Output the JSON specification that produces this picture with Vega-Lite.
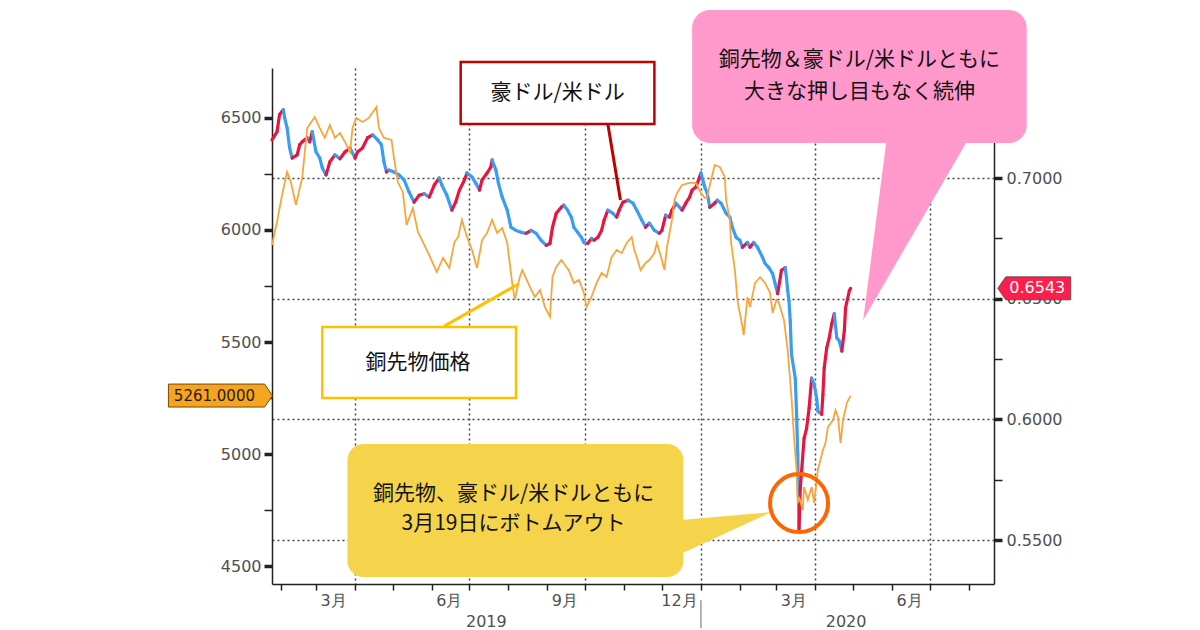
{
  "$schema": "https://vega.github.io/schema/vega-lite/v6.json",
  "width": 722,
  "height": 516,
  "autosize": {"type": "none"},
  "padding": {"left": 272, "top": 68, "right": 206, "bottom": 46},
  "background": "white",
  "config": {
    "view": {"stroke": null},
    "axis": {
      "labelFont": "DejaVu Sans",
      "labelFontSize": 16,
      "labelColor": "#505050",
      "domainColor": "#222222",
      "domainWidth": 1.5,
      "tickColor": "#222222",
      "gridColor": "#444444",
      "gridDash": [2, 3],
      "gridWidth": 1.5
    }
  },
  "datasets": {
    "aud": [
      {"t":"2019-01-25","t2":"2019-01-29","o":0.7158,"c":0.7192},
      {"t":"2019-01-29","t2":"2019-01-31","o":0.7192,"c":0.7263},
      {"t":"2019-01-31","t2":"2019-02-03","o":0.7263,"c":0.7283},
      {"t":"2019-02-03","t2":"2019-02-04","o":0.7283,"c":0.7250},
      {"t":"2019-02-04","t2":"2019-02-06","o":0.7250,"c":0.7208},
      {"t":"2019-02-06","t2":"2019-02-08","o":0.7208,"c":0.7125},
      {"t":"2019-02-08","t2":"2019-02-10","o":0.7125,"c":0.7083},
      {"t":"2019-02-10","t2":"2019-02-14","o":0.7083,"c":0.7096},
      {"t":"2019-02-14","t2":"2019-02-16","o":0.7096,"c":0.7138},
      {"t":"2019-02-16","t2":"2019-02-18","o":0.7138,"c":0.7150},
      {"t":"2019-02-18","t2":"2019-02-22","o":0.7150,"c":0.7167},
      {"t":"2019-02-22","t2":"2019-02-24","o":0.7167,"c":0.7150},
      {"t":"2019-02-24","t2":"2019-02-26","o":0.7150,"c":0.7192},
      {"t":"2019-02-26","t2":"2019-03-01","o":0.7192,"c":0.7108},
      {"t":"2019-03-01","t2":"2019-03-04","o":0.7108,"c":0.7083},
      {"t":"2019-03-04","t2":"2019-03-06","o":0.7083,"c":0.7042},
      {"t":"2019-03-06","t2":"2019-03-09","o":0.7042,"c":0.7013},
      {"t":"2019-03-09","t2":"2019-03-12","o":0.7013,"c":0.7067},
      {"t":"2019-03-12","t2":"2019-03-16","o":0.7067,"c":0.7096},
      {"t":"2019-03-16","t2":"2019-03-20","o":0.7096,"c":0.7080},
      {"t":"2019-03-20","t2":"2019-03-24","o":0.7080,"c":0.7108},
      {"t":"2019-03-24","t2":"2019-03-28","o":0.7108,"c":0.7125},
      {"t":"2019-03-28","t2":"2019-04-01","o":0.7125,"c":0.7083},
      {"t":"2019-04-01","t2":"2019-04-03","o":0.7083,"c":0.7108},
      {"t":"2019-04-03","t2":"2019-04-07","o":0.7108,"c":0.7125},
      {"t":"2019-04-07","t2":"2019-04-11","o":0.7125,"c":0.7167},
      {"t":"2019-04-11","t2":"2019-04-15","o":0.7167,"c":0.7179},
      {"t":"2019-04-15","t2":"2019-04-19","o":0.7179,"c":0.7158},
      {"t":"2019-04-19","t2":"2019-04-22","o":0.7158,"c":0.7138},
      {"t":"2019-04-22","t2":"2019-04-24","o":0.7138,"c":0.7067},
      {"t":"2019-04-24","t2":"2019-04-26","o":0.7067,"c":0.7025},
      {"t":"2019-04-26","t2":"2019-04-28","o":0.7025,"c":0.7033},
      {"t":"2019-04-28","t2":"2019-05-02","o":0.7033,"c":0.7025},
      {"t":"2019-05-02","t2":"2019-05-06","o":0.7025,"c":0.7013},
      {"t":"2019-05-06","t2":"2019-05-10","o":0.7013,"c":0.6992},
      {"t":"2019-05-10","t2":"2019-05-14","o":0.6992,"c":0.6942},
      {"t":"2019-05-14","t2":"2019-05-18","o":0.6942,"c":0.6900},
      {"t":"2019-05-18","t2":"2019-05-22","o":0.6900,"c":0.6929},
      {"t":"2019-05-22","t2":"2019-05-26","o":0.6929,"c":0.6935},
      {"t":"2019-05-26","t2":"2019-05-30","o":0.6935,"c":0.6921},
      {"t":"2019-05-30","t2":"2019-06-03","o":0.6921,"c":0.6971},
      {"t":"2019-06-03","t2":"2019-06-07","o":0.6971,"c":0.7000},
      {"t":"2019-06-07","t2":"2019-06-09","o":0.7000,"c":0.6971},
      {"t":"2019-06-09","t2":"2019-06-13","o":0.6971,"c":0.6929},
      {"t":"2019-06-13","t2":"2019-06-17","o":0.6929,"c":0.6867},
      {"t":"2019-06-17","t2":"2019-06-20","o":0.6867,"c":0.6900},
      {"t":"2019-06-20","t2":"2019-06-23","o":0.6900,"c":0.6950},
      {"t":"2019-06-23","t2":"2019-06-27","o":0.6950,"c":0.6992},
      {"t":"2019-06-27","t2":"2019-06-29","o":0.6992,"c":0.7021},
      {"t":"2019-06-29","t2":"2019-07-03","o":0.7021,"c":0.7004},
      {"t":"2019-07-03","t2":"2019-07-06","o":0.7004,"c":0.6979},
      {"t":"2019-07-06","t2":"2019-07-09","o":0.6979,"c":0.6950},
      {"t":"2019-07-09","t2":"2019-07-11","o":0.6950,"c":0.6992},
      {"t":"2019-07-11","t2":"2019-07-15","o":0.6992,"c":0.7021},
      {"t":"2019-07-15","t2":"2019-07-18","o":0.7021,"c":0.7046},
      {"t":"2019-07-18","t2":"2019-07-19","o":0.7046,"c":0.7075},
      {"t":"2019-07-19","t2":"2019-07-22","o":0.7075,"c":0.7033},
      {"t":"2019-07-22","t2":"2019-07-24","o":0.7033,"c":0.6979},
      {"t":"2019-07-24","t2":"2019-07-27","o":0.6979,"c":0.6921},
      {"t":"2019-07-27","t2":"2019-07-31","o":0.6921,"c":0.6867},
      {"t":"2019-07-31","t2":"2019-08-03","o":0.6867,"c":0.6796},
      {"t":"2019-08-03","t2":"2019-08-07","o":0.6796,"c":0.6783},
      {"t":"2019-08-07","t2":"2019-08-11","o":0.6783,"c":0.6775},
      {"t":"2019-08-11","t2":"2019-08-15","o":0.6775,"c":0.6771},
      {"t":"2019-08-15","t2":"2019-08-19","o":0.6771,"c":0.6783},
      {"t":"2019-08-19","t2":"2019-08-23","o":0.6783,"c":0.6771},
      {"t":"2019-08-23","t2":"2019-08-27","o":0.6771,"c":0.6742},
      {"t":"2019-08-27","t2":"2019-08-31","o":0.6742,"c":0.6721},
      {"t":"2019-08-31","t2":"2019-09-03","o":0.6721,"c":0.6729},
      {"t":"2019-09-03","t2":"2019-09-05","o":0.6729,"c":0.6796},
      {"t":"2019-09-05","t2":"2019-09-08","o":0.6796,"c":0.6854},
      {"t":"2019-09-08","t2":"2019-09-12","o":0.6854,"c":0.6879},
      {"t":"2019-09-12","t2":"2019-09-14","o":0.6879,"c":0.6888},
      {"t":"2019-09-14","t2":"2019-09-17","o":0.6888,"c":0.6867},
      {"t":"2019-09-17","t2":"2019-09-20","o":0.6867,"c":0.6838},
      {"t":"2019-09-20","t2":"2019-09-22","o":0.6838,"c":0.6796},
      {"t":"2019-09-22","t2":"2019-09-25","o":0.6796,"c":0.6775},
      {"t":"2019-09-25","t2":"2019-09-28","o":0.6775,"c":0.6754},
      {"t":"2019-09-28","t2":"2019-09-30","o":0.6754,"c":0.6733},
      {"t":"2019-09-30","t2":"2019-10-03","o":0.6733,"c":0.6729},
      {"t":"2019-10-03","t2":"2019-10-06","o":0.6729,"c":0.6750},
      {"t":"2019-10-06","t2":"2019-10-08","o":0.6750,"c":0.6742},
      {"t":"2019-10-08","t2":"2019-10-11","o":0.6742,"c":0.6754},
      {"t":"2019-10-11","t2":"2019-10-14","o":0.6754,"c":0.6783},
      {"t":"2019-10-14","t2":"2019-10-16","o":0.6783,"c":0.6825},
      {"t":"2019-10-16","t2":"2019-10-19","o":0.6825,"c":0.6867},
      {"t":"2019-10-19","t2":"2019-10-23","o":0.6867,"c":0.6854},
      {"t":"2019-10-23","t2":"2019-10-26","o":0.6854,"c":0.6838},
      {"t":"2019-10-26","t2":"2019-10-28","o":0.6838,"c":0.6867},
      {"t":"2019-10-28","t2":"2019-10-31","o":0.6867,"c":0.6900},
      {"t":"2019-10-31","t2":"2019-11-04","o":0.6900,"c":0.6908},
      {"t":"2019-11-04","t2":"2019-11-08","o":0.6908,"c":0.6896},
      {"t":"2019-11-08","t2":"2019-11-11","o":0.6896,"c":0.6867},
      {"t":"2019-11-11","t2":"2019-11-15","o":0.6867,"c":0.6825},
      {"t":"2019-11-15","t2":"2019-11-18","o":0.6825,"c":0.6796},
      {"t":"2019-11-18","t2":"2019-11-21","o":0.6796,"c":0.6813},
      {"t":"2019-11-21","t2":"2019-11-25","o":0.6813,"c":0.6783},
      {"t":"2019-11-25","t2":"2019-11-29","o":0.6783,"c":0.6771},
      {"t":"2019-11-29","t2":"2019-12-01","o":0.6771,"c":0.6783},
      {"t":"2019-12-01","t2":"2019-12-04","o":0.6783,"c":0.6846},
      {"t":"2019-12-04","t2":"2019-12-07","o":0.6846,"c":0.6838},
      {"t":"2019-12-07","t2":"2019-12-09","o":0.6838,"c":0.6867},
      {"t":"2019-12-09","t2":"2019-12-12","o":0.6867,"c":0.6896},
      {"t":"2019-12-12","t2":"2019-12-15","o":0.6896,"c":0.6879},
      {"t":"2019-12-15","t2":"2019-12-17","o":0.6879,"c":0.6867},
      {"t":"2019-12-17","t2":"2019-12-20","o":0.6867,"c":0.6896},
      {"t":"2019-12-20","t2":"2019-12-23","o":0.6896,"c":0.6921},
      {"t":"2019-12-23","t2":"2019-12-25","o":0.6921,"c":0.6950},
      {"t":"2019-12-25","t2":"2019-12-28","o":0.6950,"c":0.6963},
      {"t":"2019-12-28","t2":"2019-12-31","o":0.6963,"c":0.7004},
      {"t":"2019-12-31","t2":"2020-01-01","o":0.7004,"c":0.7021},
      {"t":"2020-01-01","t2":"2020-01-04","o":0.7021,"c":0.6963},
      {"t":"2020-01-04","t2":"2020-01-06","o":0.6963,"c":0.6938},
      {"t":"2020-01-06","t2":"2020-01-08","o":0.6938,"c":0.6879},
      {"t":"2020-01-08","t2":"2020-01-12","o":0.6879,"c":0.6896},
      {"t":"2020-01-12","t2":"2020-01-14","o":0.6896,"c":0.6908},
      {"t":"2020-01-14","t2":"2020-01-17","o":0.6908,"c":0.6896},
      {"t":"2020-01-17","t2":"2020-01-21","o":0.6896,"c":0.6854},
      {"t":"2020-01-21","t2":"2020-01-24","o":0.6854,"c":0.6838},
      {"t":"2020-01-24","t2":"2020-01-26","o":0.6838,"c":0.6796},
      {"t":"2020-01-26","t2":"2020-01-29","o":0.6796,"c":0.6754},
      {"t":"2020-01-29","t2":"2020-02-01","o":0.6754,"c":0.6742},
      {"t":"2020-02-01","t2":"2020-02-03","o":0.6742,"c":0.6713},
      {"t":"2020-02-03","t2":"2020-02-07","o":0.6713,"c":0.6733},
      {"t":"2020-02-07","t2":"2020-02-09","o":0.6733,"c":0.6713},
      {"t":"2020-02-09","t2":"2020-02-12","o":0.6713,"c":0.6733},
      {"t":"2020-02-12","t2":"2020-02-15","o":0.6733,"c":0.6713},
      {"t":"2020-02-15","t2":"2020-02-19","o":0.6713,"c":0.6671},
      {"t":"2020-02-19","t2":"2020-02-21","o":0.6671,"c":0.6646},
      {"t":"2020-02-21","t2":"2020-02-24","o":0.6646,"c":0.6629},
      {"t":"2020-02-24","t2":"2020-02-27","o":0.6629,"c":0.6604},
      {"t":"2020-02-27","t2":"2020-02-29","o":0.6604,"c":0.6563},
      {"t":"2020-02-29","t2":"2020-03-02","o":0.6563,"c":0.6521},
      {"t":"2020-03-02","t2":"2020-03-05","o":0.6521,"c":0.6617},
      {"t":"2020-03-05","t2":"2020-03-08","o":0.6617,"c":0.6629},
      {"t":"2020-03-08","t2":"2020-03-09","o":0.6629,"c":0.6588},
      {"t":"2020-03-09","t2":"2020-03-10","o":0.6588,"c":0.6533},
      {"t":"2020-03-10","t2":"2020-03-11","o":0.6533,"c":0.6492},
      {"t":"2020-03-11","t2":"2020-03-12","o":0.6492,"c":0.6408},
      {"t":"2020-03-12","t2":"2020-03-13","o":0.6408,"c":0.6271},
      {"t":"2020-03-13","t2":"2020-03-16","o":0.6271,"c":0.6171},
      {"t":"2020-03-16","t2":"2020-03-17","o":0.6171,"c":0.6033},
      {"t":"2020-03-17","t2":"2020-03-18","o":0.6033,"c":0.5854},
      {"t":"2020-03-18","t2":"2020-03-19","o":0.5854,"c":0.5546},
      {"t":"2020-03-19","t2":"2020-03-20","o":0.5546,"c":0.5713},
      {"t":"2020-03-20","t2":"2020-03-23","o":0.5713,"c":0.5921},
      {"t":"2020-03-23","t2":"2020-03-25","o":0.5921,"c":0.5963},
      {"t":"2020-03-25","t2":"2020-03-27","o":0.5963,"c":0.6046},
      {"t":"2020-03-27","t2":"2020-03-29","o":0.6046,"c":0.6171},
      {"t":"2020-03-29","t2":"2020-03-31","o":0.6171,"c":0.6146},
      {"t":"2020-03-31","t2":"2020-04-02","o":0.6146,"c":0.6088},
      {"t":"2020-04-02","t2":"2020-04-03","o":0.6088,"c":0.6033},
      {"t":"2020-04-03","t2":"2020-04-06","o":0.6033,"c":0.6021},
      {"t":"2020-04-06","t2":"2020-04-07","o":0.6021,"c":0.6104},
      {"t":"2020-04-07","t2":"2020-04-08","o":0.6104,"c":0.6213},
      {"t":"2020-04-08","t2":"2020-04-10","o":0.6213,"c":0.6296},
      {"t":"2020-04-10","t2":"2020-04-12","o":0.6296,"c":0.6338},
      {"t":"2020-04-12","t2":"2020-04-14","o":0.6338,"c":0.6396},
      {"t":"2020-04-14","t2":"2020-04-16","o":0.6396,"c":0.6438},
      {"t":"2020-04-16","t2":"2020-04-18","o":0.6438,"c":0.6338},
      {"t":"2020-04-18","t2":"2020-04-20","o":0.6338,"c":0.6325},
      {"t":"2020-04-20","t2":"2020-04-22","o":0.6325,"c":0.6283},
      {"t":"2020-04-22","t2":"2020-04-24","o":0.6283,"c":0.6367},
      {"t":"2020-04-24","t2":"2020-04-25","o":0.6367,"c":0.6463},
      {"t":"2020-04-25","t2":"2020-04-28","o":0.6463,"c":0.6533},
      {"t":"2020-04-28","t2":"2020-04-29","o":0.6533,"c":0.6543}
    ],
    "copper": [
      {"t":"2019-01-25","v":5933},{"t":"2019-01-29","v":6036},{"t":"2019-02-02","v":6156},
      {"t":"2019-02-06","v":6259},{"t":"2019-02-09","v":6214},{"t":"2019-02-13","v":6112},
      {"t":"2019-02-18","v":6232},{"t":"2019-02-22","v":6455},{"t":"2019-02-28","v":6504},
      {"t":"2019-03-04","v":6455},{"t":"2019-03-08","v":6411},{"t":"2019-03-12","v":6469},
      {"t":"2019-03-16","v":6411},{"t":"2019-03-20","v":6433},{"t":"2019-03-24","v":6393},
      {"t":"2019-03-28","v":6348},{"t":"2019-03-30","v":6455},{"t":"2019-04-02","v":6500},
      {"t":"2019-04-07","v":6482},{"t":"2019-04-12","v":6500},{"t":"2019-04-18","v":6549},
      {"t":"2019-04-20","v":6455},{"t":"2019-04-24","v":6411},{"t":"2019-04-30","v":6402},
      {"t":"2019-05-02","v":6321},{"t":"2019-05-05","v":6214},{"t":"2019-05-09","v":6170},
      {"t":"2019-05-12","v":6022},{"t":"2019-05-17","v":6098},{"t":"2019-05-21","v":5991},
      {"t":"2019-05-25","v":5946},{"t":"2019-05-30","v":5888},{"t":"2019-06-05","v":5812},
      {"t":"2019-06-10","v":5875},{"t":"2019-06-15","v":5830},{"t":"2019-06-19","v":5946},
      {"t":"2019-06-22","v":5969},{"t":"2019-06-25","v":6045},{"t":"2019-06-29","v":5969},
      {"t":"2019-07-03","v":5911},{"t":"2019-07-07","v":5830},{"t":"2019-07-11","v":5955},
      {"t":"2019-07-15","v":5987},{"t":"2019-07-19","v":6045},{"t":"2019-07-23","v":5987},
      {"t":"2019-07-27","v":6009},{"t":"2019-07-31","v":5942},{"t":"2019-08-04","v":5763},
      {"t":"2019-08-06","v":5688},{"t":"2019-08-10","v":5790},{"t":"2019-08-12","v":5821},
      {"t":"2019-08-18","v":5746},{"t":"2019-08-22","v":5701},{"t":"2019-08-26","v":5732},
      {"t":"2019-08-30","v":5656},{"t":"2019-09-03","v":5612},{"t":"2019-09-05","v":5790},
      {"t":"2019-09-08","v":5835},{"t":"2019-09-12","v":5866},{"t":"2019-09-16","v":5835},
      {"t":"2019-09-18","v":5821},{"t":"2019-09-22","v":5763},{"t":"2019-09-26","v":5777},
      {"t":"2019-09-30","v":5719},{"t":"2019-10-02","v":5656},{"t":"2019-10-06","v":5701},
      {"t":"2019-10-10","v":5763},{"t":"2019-10-14","v":5808},{"t":"2019-10-18","v":5790},
      {"t":"2019-10-22","v":5879},{"t":"2019-10-26","v":5911},{"t":"2019-10-30","v":5897},
      {"t":"2019-11-03","v":5942},{"t":"2019-11-07","v":5969},{"t":"2019-11-09","v":5911},
      {"t":"2019-11-11","v":5879},{"t":"2019-11-14","v":5821},{"t":"2019-11-18","v":5853},
      {"t":"2019-11-21","v":5866},{"t":"2019-11-25","v":5897},{"t":"2019-11-27","v":5942},
      {"t":"2019-12-01","v":5866},{"t":"2019-12-03","v":5821},{"t":"2019-12-05","v":5924},
      {"t":"2019-12-09","v":6045},{"t":"2019-12-11","v":6134},{"t":"2019-12-13","v":6165},
      {"t":"2019-12-17","v":6201},{"t":"2019-12-23","v":6210},{"t":"2019-12-28","v":6210},
      {"t":"2020-01-01","v":6165},{"t":"2020-01-04","v":6143},{"t":"2020-01-06","v":6147},
      {"t":"2020-01-09","v":6223},{"t":"2020-01-12","v":6290},{"t":"2020-01-16","v":6281},
      {"t":"2020-01-20","v":6237},{"t":"2020-01-21","v":6134},{"t":"2020-01-24","v":6045},
      {"t":"2020-01-25","v":5942},{"t":"2020-01-28","v":5821},{"t":"2020-01-30","v":5688},
      {"t":"2020-02-03","v":5567},{"t":"2020-02-04","v":5531},{"t":"2020-02-07","v":5701},
      {"t":"2020-02-09","v":5656},{"t":"2020-02-13","v":5763},{"t":"2020-02-17","v":5790},
      {"t":"2020-02-21","v":5763},{"t":"2020-02-25","v":5719},{"t":"2020-02-27","v":5629},
      {"t":"2020-03-01","v":5688},{"t":"2020-03-03","v":5674},{"t":"2020-03-07","v":5598},
      {"t":"2020-03-10","v":5464},{"t":"2020-03-13","v":5254},{"t":"2020-03-15","v":5076},
      {"t":"2020-03-17","v":4929},{"t":"2020-03-18","v":4781},{"t":"2020-03-19","v":4808},
      {"t":"2020-03-22","v":4750},{"t":"2020-03-23","v":4853},{"t":"2020-03-26","v":4795},
      {"t":"2020-03-29","v":4853},{"t":"2020-03-31","v":4781},{"t":"2020-04-03","v":4929},
      {"t":"2020-04-07","v":5018},{"t":"2020-04-09","v":5049},{"t":"2020-04-11","v":5121},
      {"t":"2020-04-15","v":5152},{"t":"2020-04-17","v":5196},{"t":"2020-04-19","v":5165},
      {"t":"2020-04-21","v":5049},{"t":"2020-04-23","v":5152},{"t":"2020-04-26","v":5228},
      {"t":"2020-04-29","v":5261}
    ]
  },
  "layer": [
    {
      "layer": [
        {
          "data": {"name": "aud"},
          "mark": {"type": "rule", "strokeWidth": 3.2, "strokeCap": "round"},
          "encoding": {
            "x": {
              "field": "t",
              "type": "temporal",
              "scale": {"type": "utc", "nice": false, "domain": [{"year": 2019, "month": 1, "date": 25, "utc": true}, {"year": 2020, "month": 8, "date": 21, "utc": true}]}
            },
            "x2": {"field": "t2"},
            "y": {
              "field": "o",
              "type": "quantitative",
              "scale": {"domain": [0.5318, 0.7456], "nice": false, "zero": false},
              "axis": {
                "orient": "right",
                "values": [0.55, 0.575, 0.6, 0.625, 0.65, 0.675, 0.7, 0.725],
                "tickCount": 100,
                "labelExpr": "round(datum.value * 1000) % 50 == 0 ? format(datum.value, '.4f') : ''",
                "tickSize": 8,
                "tickWidth": {"condition": {"test": "round(datum.value * 1000) % 50 == 0", "value": 3.5}, "value": 1.5},
                "labelPadding": 4,
                "grid": true,
                "gridOpacity": {"condition": {"test": "round(datum.value * 1000) % 50 == 0", "value": 1}, "value": 0},
                "title": null
              }
            },
            "y2": {"field": "c"},
            "color": {"condition": {"test": "datum.c >= datum.o", "value": "#e8163f"}, "value": "#3a9cf2"}
          }
        },
        {
          "data": {"values": [{"t": "2020-09-22", "v": 0.6543, "label": "0.6543"}]},
          "encoding": {
            "x": {"field": "t", "type": "temporal"},
            "y": {"field": "v", "type": "quantitative"}
          },
          "layer": [
            {"mark": {"type": "point", "shape": "M-1,0L-0.78,-0.315L1,-0.315L1,0.315L-0.78,0.315Z", "size": 5329, "filled": true, "fill": "#ff1d4c", "stroke": "#444444", "strokeWidth": 0.8, "opacity": 1}},
            {"mark": {"type": "text", "font": "DejaVu Sans", "fontSize": 16, "color": "white", "dx": 3, "align": "center", "baseline": "middle"}, "encoding": {"text": {"field": "label"}}}
          ]
        }
      ]
    },
    {
      "layer": [
        {
          "data": {"name": "copper"},
          "mark": {"type": "line", "color": "#f8a63c", "strokeWidth": 1.8},
          "encoding": {
            "x": {
              "field": "t",
              "type": "temporal",
              "scale": {"type": "utc", "nice": false, "domain": [{"year": 2019, "month": 1, "date": 25, "utc": true}, {"year": 2020, "month": 8, "date": 21, "utc": true}]},
              "axis": {
                "orient": "bottom",
                "values": [
                  {"year": 2019, "month": 2, "date": 1, "utc": true}, {"year": 2019, "month": 3, "date": 1, "utc": true},
                  {"year": 2019, "month": 4, "date": 1, "utc": true}, {"year": 2019, "month": 5, "date": 1, "utc": true},
                  {"year": 2019, "month": 6, "date": 1, "utc": true}, {"year": 2019, "month": 7, "date": 1, "utc": true},
                  {"year": 2019, "month": 7, "date": 14, "utc": true},
                  {"year": 2019, "month": 8, "date": 1, "utc": true}, {"year": 2019, "month": 9, "date": 1, "utc": true},
                  {"year": 2019, "month": 10, "date": 1, "utc": true}, {"year": 2019, "month": 11, "date": 1, "utc": true},
                  {"year": 2019, "month": 12, "date": 1, "utc": true}, {"year": 2020, "month": 1, "date": 1, "utc": true},
                  {"year": 2020, "month": 2, "date": 1, "utc": true}, {"year": 2020, "month": 3, "date": 1, "utc": true},
                  {"year": 2020, "month": 4, "date": 1, "utc": true}, {"year": 2020, "month": 4, "date": 25, "utc": true},
                  {"year": 2020, "month": 5, "date": 1, "utc": true},
                  {"year": 2020, "month": 6, "date": 1, "utc": true}, {"year": 2020, "month": 7, "date": 1, "utc": true},
                  {"year": 2020, "month": 8, "date": 1, "utc": true}
                ],
                "tickCount": 100,
                "labelExpr": "utcdate(datum.value) != 1 ? ['', '' + utcyear(datum.value)] : (indexof([2, 5, 8, 11], utcmonth(datum.value)) >= 0 ? (utcmonth(datum.value) + 1) + '月' : '')",
                "labelOffset": {"condition": {"test": "utcdate(datum.value) == 1", "value": 17}, "value": 0},
                "labelLineHeight": 21,
                "labelPadding": 2,
                "labelOverlap": false,
                "labelFlush": false,
                "labelBound": false,
                "tickSize": 6,
                "tickWidth": 1.5,
                "tickOpacity": {"condition": {"test": "utcdate(datum.value) == 1", "value": 1}, "value": 0},
                "grid": true,
                "gridOpacity": {"condition": {"test": "utcdate(datum.value) == 1 && utcmonth(datum.value) % 3 == 0", "value": 1}, "value": 0},
                "title": null
              }
            },
            "y": {
              "field": "v",
              "type": "quantitative",
              "scale": {"domain": [4420, 6723], "nice": false, "zero": false},
              "axis": {
                "orient": "left",
                "values": [4500, 4750, 5000, 5250, 5500, 5750, 6000, 6250, 6500],
                "tickCount": 100,
                "labelExpr": "datum.value % 500 == 0 ? '' + datum.value : ''",
                "tickSize": 8,
                "tickWidth": {"condition": {"test": "datum.value % 500 == 0", "value": 3.5}, "value": 1.5},
                "labelPadding": 3,
                "grid": false,
                "title": null
              }
            }
          }
        },
        {
          "data": {"values": [{"x": "2020-01-01", "y": 4348, "y2": 4223}]},
          "mark": {"type": "rule", "color": "#9a9a9a", "strokeWidth": 1.5},
          "encoding": {
            "x": {"field": "x", "type": "temporal"},
            "y": {"field": "y", "type": "quantitative"},
            "y2": {"field": "y2"}
          }
        },
        {
          "data": {"values": [{"x": "2019-03-26", "x2": "2019-12-18", "y": 5045, "y2": 4451}]},
          "mark": {"type": "rect", "fill": "#f5d44c", "cornerRadius": 16},
          "encoding": {
            "x": {"field": "x", "type": "temporal"},
            "x2": {"field": "x2"},
            "y": {"field": "y", "type": "quantitative"},
            "y2": {"field": "y2"}
          }
        },
        {
          "data": {"values": [{"x": "2019-12-14", "y": 4705, "y2": 4549}, {"x": "2020-02-26", "y": 4741, "y2": 4741}]},
          "mark": {"type": "area", "fill": "#f5d44c", "orient": "vertical"},
          "encoding": {
            "x": {"field": "x", "type": "temporal"},
            "y": {"field": "y", "type": "quantitative"},
            "y2": {"field": "y2"}
          }
        },
        {
          "data": {"values": [{"x": "2019-08-05", "y": 4821, "text": "銅先物、豪ドル/米ドルともに"}, {"x": "2019-08-05", "y": 4687, "text": "3月19日にボトムアウト"}]},
          "mark": {"type": "text", "font": "Noto Sans CJK JP", "fontSize": 21, "color": "#111111", "align": "center", "baseline": "middle"},
          "encoding": {
            "x": {"field": "x", "type": "temporal"},
            "y": {"field": "y", "type": "quantitative"},
            "text": {"field": "text"}
          }
        },
        {
          "data": {"values": [{"x": "2019-12-25", "x2": "2020-09-16", "y": 6982, "y2": 6388}]},
          "mark": {"type": "rect", "fill": "#ff99cc", "cornerRadius": 18},
          "encoding": {
            "x": {"field": "x", "type": "temporal"},
            "x2": {"field": "x2"},
            "y": {"field": "y", "type": "quantitative"},
            "y2": {"field": "y2"}
          }
        },
        {
          "data": {"values": [{"y": 6420, "x": "2020-05-28", "x2": "2020-08-02"}, {"y": 5598, "x": "2020-05-09", "x2": "2020-05-09"}]},
          "mark": {"type": "area", "fill": "#ff99cc", "orient": "horizontal"},
          "encoding": {
            "y": {"field": "y", "type": "quantitative"},
            "x": {"field": "x", "type": "temporal"},
            "x2": {"field": "x2"}
          }
        },
        {
          "data": {"values": [{"x": "2020-05-06", "y": 6759, "text": "銅先物＆豪ドル/米ドルともに"}, {"x": "2020-05-06", "y": 6616, "text": "大きな押し目もなく続伸"}]},
          "mark": {"type": "text", "font": "Noto Sans CJK JP", "fontSize": 21, "color": "#111111", "align": "center", "baseline": "middle"},
          "encoding": {
            "x": {"field": "x", "type": "temporal"},
            "y": {"field": "y", "type": "quantitative"},
            "text": {"field": "text"}
          }
        },
        {
          "data": {"values": [{"x": "2019-10-19", "y": 6473, "x2": "2019-10-29", "y2": 6134}]},
          "mark": {"type": "rule", "color": "#c00000", "strokeWidth": 3},
          "encoding": {
            "x": {"field": "x", "type": "temporal"},
            "x2": {"field": "x2"},
            "y": {"field": "y", "type": "quantitative"},
            "y2": {"field": "y2"}
          }
        },
        {
          "data": {"values": [{"x": "2019-06-24", "x2": "2019-11-25", "y": 6750, "y2": 6473}]},
          "mark": {"type": "rect", "fill": "white", "stroke": "#c00000", "strokeWidth": 2.5},
          "encoding": {
            "x": {"field": "x", "type": "temporal"},
            "x2": {"field": "x2"},
            "y": {"field": "y", "type": "quantitative"},
            "y2": {"field": "y2"}
          }
        },
        {
          "data": {"values": [{"x": "2019-09-09", "y": 6612, "text": "豪ドル/米ドル"}]},
          "mark": {"type": "text", "font": "Noto Sans CJK JP", "fontSize": 21, "color": "#111111", "align": "center", "baseline": "middle"},
          "encoding": {
            "x": {"field": "x", "type": "temporal"},
            "y": {"field": "y", "type": "quantitative"},
            "text": {"field": "text"}
          }
        },
        {
          "data": {"values": [{"x": "2019-06-11", "y": 5571, "x2": "2019-08-09", "y2": 5759}]},
          "mark": {"type": "rule", "color": "#ffc000", "strokeWidth": 3},
          "encoding": {
            "x": {"field": "x", "type": "temporal"},
            "x2": {"field": "x2"},
            "y": {"field": "y", "type": "quantitative"},
            "y2": {"field": "y2"}
          }
        },
        {
          "data": {"values": [{"x": "2019-03-06", "x2": "2019-08-07", "y": 5567, "y2": 5250}]},
          "mark": {"type": "rect", "fill": "white", "stroke": "#ffc000", "strokeWidth": 2.5},
          "encoding": {
            "x": {"field": "x", "type": "temporal"},
            "x2": {"field": "x2"},
            "y": {"field": "y", "type": "quantitative"},
            "y2": {"field": "y2"}
          }
        },
        {
          "data": {"values": [{"x": "2019-05-21", "y": 5408, "text": "銅先物価格"}]},
          "mark": {"type": "text", "font": "Noto Sans CJK JP", "fontSize": 21, "color": "#111111", "align": "center", "baseline": "middle"},
          "encoding": {
            "x": {"field": "x", "type": "temporal"},
            "y": {"field": "y", "type": "quantitative"},
            "text": {"field": "text"}
          }
        },
        {
          "data": {"values": [{"x": "2020-03-19", "y": 4781}]},
          "mark": {"type": "point", "shape": "circle", "size": 3364, "filled": false, "stroke": "#ff6600", "strokeWidth": 4, "opacity": 1},
          "encoding": {
            "x": {"field": "x", "type": "temporal"},
            "y": {"field": "y", "type": "quantitative"}
          }
        },
        {
          "data": {"values": [{"x": "2018-12-15", "y": 5261, "label": "5261.0000"}]},
          "encoding": {
            "x": {"field": "x", "type": "temporal"},
            "y": {"field": "y", "type": "quantitative"}
          },
          "layer": [
            {"mark": {"type": "point", "shape": "M-1,-0.221L0.85,-0.221L1,0L0.85,0.221L-1,0.221Z", "size": 10816, "filled": true, "fill": "#f5a422", "stroke": "#7a4a00", "strokeWidth": 1, "opacity": 1}},
            {"mark": {"type": "text", "font": "DejaVu Sans", "fontSize": 15, "color": "#2a1a00", "dx": -6, "align": "center", "baseline": "middle"}, "encoding": {"text": {"field": "label"}}}
          ]
        }
      ]
    }
  ],
  "resolve": {"scale": {"y": "independent"}}
}
